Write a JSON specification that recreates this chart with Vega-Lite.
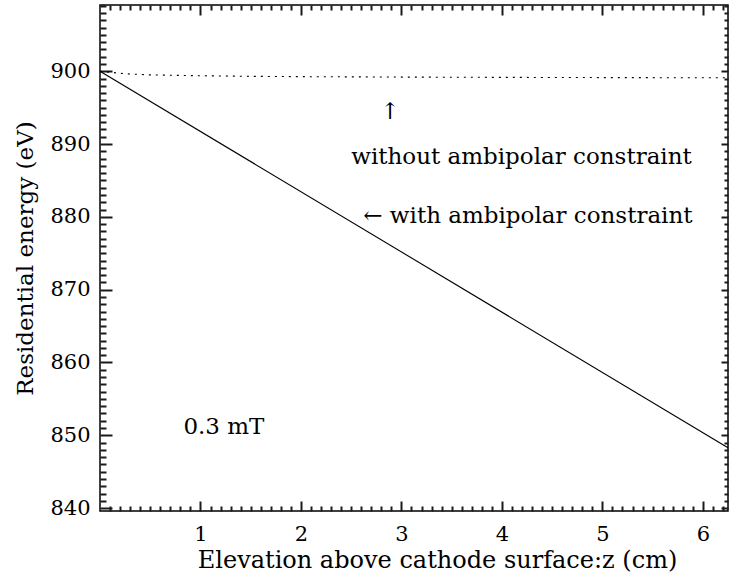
{
  "$schema": "https://vega.github.io/schema/vega-lite/v6.json",
  "width": 628,
  "height": 506,
  "autosize": {"type": "none"},
  "padding": {"left": 100, "top": 5, "right": 7, "bottom": 73},
  "background": "white",
  "config": {
    "view": {"stroke": "black", "strokeWidth": 1.5},
    "axis": {"domain": false, "grid": false}
  },
  "data": {"values": [
    {"series": "with", "z": 0, "E": 900.0},
    {"series": "with", "z": 6.25, "E": 848.3},
    {"series": "without", "z": 0, "E": 900.0},
    {"series": "without", "z": 0.25, "E": 899.65},
    {"series": "without", "z": 0.5, "E": 899.5},
    {"series": "without", "z": 1.0, "E": 899.38},
    {"series": "without", "z": 1.5, "E": 899.3},
    {"series": "without", "z": 2.0, "E": 899.26},
    {"series": "without", "z": 3.0, "E": 899.2},
    {"series": "without", "z": 4.0, "E": 899.16},
    {"series": "without", "z": 5.0, "E": 899.13},
    {"series": "without", "z": 6.25, "E": 899.1},
    {"series": "note", "z": 2.79, "E": 894.4, "label": "↑"},
    {"series": "note", "z": 2.5, "E": 888.2, "label": "without ambipolar constraint"},
    {"series": "note", "z": 2.62, "E": 880.1, "label": "← with ambipolar constraint"},
    {"series": "note", "z": 0.83, "E": 851.2, "label": "0.3 mT"}
  ]},
  "layer": [
    {
      "transform": [{"filter": "datum.series === 'with'"}],
      "mark": {"type": "line", "color": "black", "strokeWidth": 1.1},
      "encoding": {
        "x": {"field": "z", "type": "quantitative", "scale": {"domain": [0, 6.25], "nice": false, "zero": false},
          "axis": {"offset": -10, "values": [1, 2, 3, 4, 5, 6], "tickSize": 10, "tickColor": "#1a1a1a", "tickWidth": 2, "labelPadding": 12, "labelFontSize": 21, "labelFont": "DejaVu Serif", "labelColor": "black", "labelFlush": false,
            "title": "Elevation above cathode surface:z (cm)", "titleFont": "DejaVu Serif", "titleFontWeight": "normal", "titleColor": "black", "titleFontSize": 24, "titlePadding": 4, "titleX": 337, "titleAnchor": "middle"}},
        "y": {"field": "E", "type": "quantitative", "scale": {"domain": [839.6, 909.1], "nice": false, "zero": false},
          "axis": {"offset": -12, "values": [840, 850, 860, 870, 880, 890, 900], "tickSize": 12, "tickColor": "#1a1a1a", "tickWidth": 2, "labelPadding": 10, "labelFontSize": 21, "labelFont": "DejaVu Serif", "labelColor": "black",
            "title": "Residential energy (eV)", "titleFont": "DejaVu Serif", "titleFontWeight": "normal", "titleColor": "black", "titleFontSize": 23, "titlePadding": 12}}
      }
    },
    {
      "transform": [{"filter": "datum.series === 'without'"}],
      "mark": {"type": "line", "color": "black", "strokeWidth": 1.1, "strokeDash": [2, 5]},
      "encoding": {
        "x": {"field": "z", "type": "quantitative",
          "axis": {"orient": "bottom", "offset": -5, "values": [0.1,0.2,0.3,0.4,0.5,0.6,0.7,0.8,0.9,1.1,1.2,1.3,1.4,1.5,1.6,1.7,1.8,1.9,2.1,2.2,2.3,2.4,2.5,2.6,2.7,2.8,2.9,3.1,3.2,3.3,3.4,3.5,3.6,3.7,3.8,3.9,4.1,4.2,4.3,4.4,4.5,4.6,4.7,4.8,4.9,5.1,5.2,5.3,5.4,5.5,5.6,5.7,5.8,5.9,6.1,6.2], "tickSize": 5, "tickColor": "#1a1a1a", "tickWidth": 2, "labels": false, "title": null}},
        "y": {"field": "E", "type": "quantitative",
          "axis": {"orient": "left", "offset": -6, "values": [841,842,843,844,845,846,847,848,849,851,852,853,854,855,856,857,858,859,861,862,863,864,865,866,867,868,869,871,872,873,874,875,876,877,878,879,881,882,883,884,885,886,887,888,889,891,892,893,894,895,896,897,898,899,901,902,903,904,905,906,907,908,909], "tickSize": 6, "tickColor": "#1a1a1a", "tickWidth": 2, "labels": false, "title": null}}
      }
    },
    {
      "transform": [{"filter": "datum.series === 'note'"}],
      "mark": {"type": "text", "align": "left", "baseline": "middle", "fontSize": 23, "font": "DejaVu Serif", "color": "black"},
      "encoding": {
        "x": {"field": "z", "type": "quantitative",
          "axis": {"orient": "top", "offset": -10, "values": [1, 2, 3, 4, 5, 6], "tickSize": 10, "tickColor": "#1a1a1a", "tickWidth": 2, "labels": false, "title": null}},
        "y": {"field": "E", "type": "quantitative",
          "axis": {"orient": "right", "offset": -7, "values": [840, 850, 860, 870, 880, 890, 900], "tickSize": 7, "tickColor": "#1a1a1a", "tickWidth": 2, "labels": false, "title": null}},
        "text": {"field": "label", "type": "nominal"}
      }
    },
    {
      "mark": {"type": "point", "opacity": 0},
      "encoding": {
        "x": {"field": "z", "type": "quantitative",
          "axis": {"orient": "top", "offset": -5, "values": [0.1,0.2,0.3,0.4,0.5,0.6,0.7,0.8,0.9,1.1,1.2,1.3,1.4,1.5,1.6,1.7,1.8,1.9,2.1,2.2,2.3,2.4,2.5,2.6,2.7,2.8,2.9,3.1,3.2,3.3,3.4,3.5,3.6,3.7,3.8,3.9,4.1,4.2,4.3,4.4,4.5,4.6,4.7,4.8,4.9,5.1,5.2,5.3,5.4,5.5,5.6,5.7,5.8,5.9,6.1,6.2], "tickSize": 5, "tickColor": "#1a1a1a", "tickWidth": 2, "labels": false, "title": null}},
        "y": {"field": "E", "type": "quantitative",
          "axis": {"orient": "right", "offset": -4, "values": [841,842,843,844,845,846,847,848,849,851,852,853,854,855,856,857,858,859,861,862,863,864,865,866,867,868,869,871,872,873,874,875,876,877,878,879,881,882,883,884,885,886,887,888,889,891,892,893,894,895,896,897,898,899,901,902,903,904,905,906,907,908,909], "tickSize": 4, "tickColor": "#1a1a1a", "tickWidth": 2, "labels": false, "title": null}}
      }
    }
  ],
  "resolve": {"axis": {"x": "independent", "y": "independent"}}
}
